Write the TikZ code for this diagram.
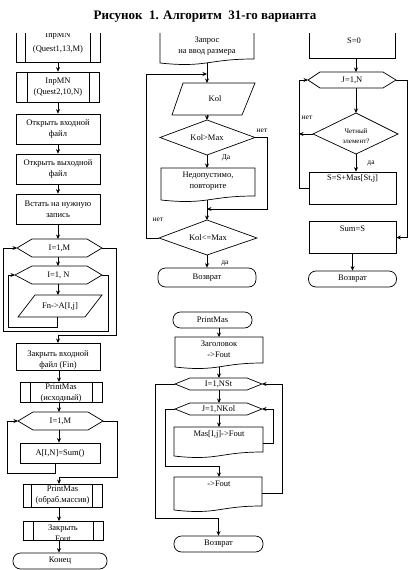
\documentclass[tikz,border=0pt]{standalone}
\usepackage{fontspec}
\setmainfont{Liberation Serif}
\usetikzlibrary{arrows.meta}
% document shape: left x, right x, top y, left-bottom y
\newcommand{\mydoc}[4]{\draw (#1,#3) -- (#2,#3) -- (#2,#4-4) .. controls ({(#1+#2)/2},#4-4) and ({(#1+#2)/2},#4+5) .. (#1,#4) -- cycle;}
% hexagon: name, left x, top-left x, top-right x, right x, top y, centre y, text, column x
\newcommand{\hexa}[9]{%
  \draw (#2,#7) -- (#3,#6) -- (#4,#6) -- (#5,#7) -- (#4,2*#7-#6) -- (#3,2*#7-#6) -- cycle;
  \node[txt] (#1) at ({(#2+#5)/2},#7) {#8};
  \coordinate (#1l) at (#2,#7); \coordinate (#1r) at (#5,#7);
  \coordinate (#1t) at (#9,#6); \coordinate (#1b) at (#9,2*#7-#6);}
\tikzset{
  arr/.style={-{Stealth[length=4.5pt,width=4pt]}},
  txt/.style={font=\fontsize{8.5}{11}\selectfont, align=center, inner sep=0pt},
  stxt/.style={font=\fontsize{7}{10}\selectfont, align=center, inner sep=0pt},
  lbl/.style={font=\fontsize{7.5}{9}\selectfont, inner sep=0pt},
  box/.style={draw, rectangle, inner sep=0pt, font=\fontsize{8.5}{11}\selectfont, align=center},
  term/.style={draw, rectangle, rounded corners=7.5pt, inner sep=0pt, font=\fontsize{8.5}{11}\selectfont},
  ttl/.style={font=\fontsize{13}{15}\selectfont\bfseries, inner sep=0pt}
}
\begin{document}
\begin{tikzpicture}[x=1pt,y=-1pt,line width=0.7pt]
\useasboundingbox (0,0) rectangle (409,570);
\node[ttl] (title) at (205,16.5) {Рисунок\ \ 1. Алгоритм\ \ 31-го варианта};

% ---------------- left column ----------------
\draw (16,33) -- (16,62) -- (100,62) -- (100,33);
\draw (25,33) -- (25,62); \draw (90,33) -- (90,62);
\begin{scope}
  \clip (16,33) rectangle (100,62);
  \node[txt, font=\fontsize{8.5}{14}\selectfont] (b1) at (58,43) {InpMN\\(Quest1,13,M)};
\end{scope}
\coordinate (b1b) at (58,62);

\node[box, minimum width=83, minimum height=30] (b2) at (58,87) {InpMN\\(Quest2,10,N)};
\draw ([xshift=11pt]b2.north west) -- ([xshift=11pt]b2.south west);
\draw ([xshift=-11pt]b2.north east) -- ([xshift=-11pt]b2.south east);
\node[box, minimum width=84, minimum height=30] (b3) at (58,129) {Открыть входной\\файл};
\node[box, minimum width=84, minimum height=30] (b4) at (58,169) {Открыть выходной\\файл};
\node[box, minimum width=84, minimum height=30] (b5) at (58,209) {Встать на нужную\\запись};

\hexa{h1}{17}{32}{87}{102}{239}{248}{I=1,M}{58}
\hexa{h2}{15}{32}{87}{102}{266}{275}{I=1, N}{58}
\draw (18,317) -- (35,295) -- (102,295) -- (85,317) -- cycle;
\node[txt] (p1) at (60,306) {Fn->A[I,j]};
\coordinate (p1t) at (58,295); \coordinate (p1b) at (57,317);

\draw[arr] (b1b) -- (b2.north);
\draw[arr] (b2.south) -- (b3.north);
\draw[arr] (b3.south) -- (b4.north);
\draw[arr] (b4.south) -- (b5.north);
\draw[arr] (b5.south) -- (h1t);
\draw[arr] (h1b) -- (h2t);
\draw[arr] (h2b) -- (p1t);
\draw[arr] (p1b) |- (8,327) |- (h2l);
\draw[arr] (h2r) -| (108,331) -| (3,248) -- (h1l);

\draw (16,343) rectangle (100,370);
\begin{scope}
  \clip (16,343) rectangle (100,370);
  \node[txt] (b6) at (58,360) {Закрыть входной\\файл (Fin)};
\end{scope}
\coordinate (b6t) at (58,343); \coordinate (b6b) at (59,370);
\draw[arr] (h1r) -| (116,335) -| (b6t);

\draw (20,382) rectangle (102,402);
\draw (30,382) -- (30,402); \draw (92,382) -- (92,402);
\begin{scope}
  \clip (20,382) rectangle (102,402);
  \node[txt] (b7) at (61,393) {PrintMas\\(исходный)};
\end{scope}
\coordinate (b7t) at (59,382); \coordinate (b7b) at (59,402);
\draw[arr] (b6b) -- (b7t);

\hexa{h3}{18}{33}{88}{103}{412}{421}{I=1,M}{59}
\draw[arr] (b7b) -- (h3t);
\node[box, minimum width=80, minimum height=20] (b8) at (60,453) {A[I,N]=Sum()};
\coordinate (b8r) at (55,463);
\draw[arr] (h3b) -- (h3b |- b8.north);
\draw[arr] (b8r) |- (7,473) |- (h3l);

\node[box, minimum width=79, minimum height=23] (b9) at (62.5,495.5) {PrintMas\\(обраб.массив)};
\draw ([xshift=9pt]b9.north west) -- ([xshift=9pt]b9.south west);
\draw ([xshift=-10pt]b9.north east) -- ([xshift=-10pt]b9.south east);
\coordinate (b9t) at (59,484); \coordinate (b9b) at (59,507);
\draw[arr] (h3r) -| (117,477) -| (b9t);

\draw (23,521) rectangle (103,540);
\draw (33,521) -- (33,540); \draw (93,521) -- (93,540);
\begin{scope}
  \clip (23,521) rectangle (103,540);
  \node[txt] (b10) at (63,533) {Закрыть\\Fout};
\end{scope}
\coordinate (b10t) at (59,521); \coordinate (b10b) at (59,540);
\draw[arr] (b9b) -- (b10t);
\node[term, minimum width=94, minimum height=16] (t1) at (60,561) {Конец};
\draw[arr] (b10b) -- (b10b |- t1.north);

% ---------------- middle column ----------------
\draw (160,33) -- (160,63) .. controls (207,68) and (207,59) .. (254,59) -- (254,33);
\node[txt] (d1) at (207,46.5) {Запрос\\на ввод размера};
\coordinate (d1b) at (207,63);
\coordinate (j1) at (207,74);
\draw (172,115) -- (183,83) -- (255,83) -- (242,115) -- cycle;
\node[txt] (kol) at (215,99) {Kol};
\coordinate (kolt) at (207,83); \coordinate (kolb) at (207,115);
\draw (207,120) -- (255,137.5) -- (207,155) -- (160,137.5) -- cycle;
\node[txt] (dm1) at (207,137.5) {Kol>Max};
\coordinate (dm1t) at (207,120); \coordinate (dm1b) at (207,155);
\coordinate (dm1r) at (255,137.5);
\node[lbl] (l1) at (262,131) {нет};
\node[lbl] (l2) at (226,157.5) {Да};
\mydoc{161}{255}{168}{200}
\node[txt] (d2) at (208,181) {Недопустимо,\\повторите};
\coordinate (d2t) at (207,168); \coordinate (d2b) at (207,200);
\coordinate (j2) at (207,209);
\draw (207,220) -- (257,238) -- (207,255) -- (159,238) -- cycle;
\node[txt] (dm2) at (208,238) {Kol<=Max};
\coordinate (dm2t) at (207,220); \coordinate (dm2b) at (207,255);
\coordinate (dm2l) at (159,238);
\node[lbl] (l3) at (158,219.5) {нет};
\node[lbl] (l4) at (225,263.5) {да};
\node[term, minimum width=98, minimum height=19] (t2) at (207,277.5) {Возврат};

\draw (d1b) -- (j1);
\draw[arr] (j1) -- (kolt);
\draw[arr] (kolb) -- (dm1t);
\draw[arr] (dm1b) -- (d2t);
\draw[arr] (dm1r) -| (267,209) -- (j2);
\draw (d2b) -- (j2);
\draw[arr] (j2) -- (dm2t);
\draw[arr] (dm2l) -| (146,74) -- (j1);
\draw[arr] (dm2b) -- (t2.north);

% ---------------- right column ----------------
\draw (309,33) -- (309,58) -- (395,58) -- (395,33);
\node[txt] (s0) at (354,40.5) {S=0};
\coordinate (s0b) at (356,58);
\hexa{h4}{308}{320}{383}{396}{72}{80}{J=1,N}{356}
\draw (356,113) -- (398,134) -- (356,154) -- (313,134) -- cycle;
\node[stxt] (dm3) at (356,136.5) {Четный\\элемент?};
\coordinate (dm3t) at (356,113); \coordinate (dm3b) at (356,154);
\coordinate (dm3l) at (313,134); \coordinate (rl) at (299,134);
\node[lbl] (l5) at (307,118) {нет};
\node[lbl] (l6) at (371,163.5) {да};
\node[box, minimum width=87, minimum height=32] (b11) at (352.5,188) {};
\node[txt] (b11x) at (352.5,178.5) {S=S+Mas[St,j]};
\node[box, minimum width=87, minimum height=32] (b12) at (352.5,237.5) {};
\node[txt] (b12x) at (352.5,229) {Sum=S};
\node[term, minimum width=88, minimum height=16] (t3) at (352.5,279) {Возврат};

\draw[arr] (s0b) -- (h4t);
\draw[arr] (h4b) -- (dm3t);
\draw[arr] (dm3b) -- (dm3b |- b11.north);
\draw[arr] (dm3l) -- (rl);
\draw[arr] (b11.west) -| (299,80) -- (h4l);
\draw[arr] (h4r) -| (407,237.5) -- (b12.east);
\draw[arr] (b12.south) -- (t3.north);

% ---------------- PrintMas ----------------
\node[term, minimum width=79, minimum height=16] (t4) at (212.5,320) {PrintMas};
\mydoc{175}{263}{337}{367}
\node[txt] (d4) at (219,349.5) {Заголовок\\->Fout};
\coordinate (d4t) at (219,337); \coordinate (d4b) at (219,367);
\hexa{h5}{175}{190}{247}{262}{378}{384}{I=1,NSt}{219}
\hexa{h6}{175}{190}{247}{262}{403}{409}{J=1,NKol}{219}
\mydoc{174}{263}{427}{456}
\node[txt] (d5) at (219,434) {Mas[I,j]->Fout};
\coordinate (d5t) at (219,427); \coordinate (d5r) at (263,443);
\mydoc{174}{262}{477}{510}
\node[txt] (d6) at (219,484) {->Fout};
\coordinate (d6t) at (219,477); \coordinate (d6r) at (262,493);
\node[term, minimum width=89, minimum height=16] (t5) at (218.5,544) {Возврат};

\draw[arr] (t4.south -| d4t) -- (d4t);
\draw[arr] (d4b) -- (h5t);
\draw[arr] (h5b) -- (h6t);
\draw[arr] (h6b) -- (d5t);
\draw[arr] (d5r) -| (273,409) -- (h6r);
\draw[arr] (h6l) -| (165,466) -| (d6t);
\draw[arr] (d6r) -| (282,384) -- (h5r);
\draw[arr] (h5l) -| (155,518) -| (t5.north);
\end{tikzpicture}
\end{document}
